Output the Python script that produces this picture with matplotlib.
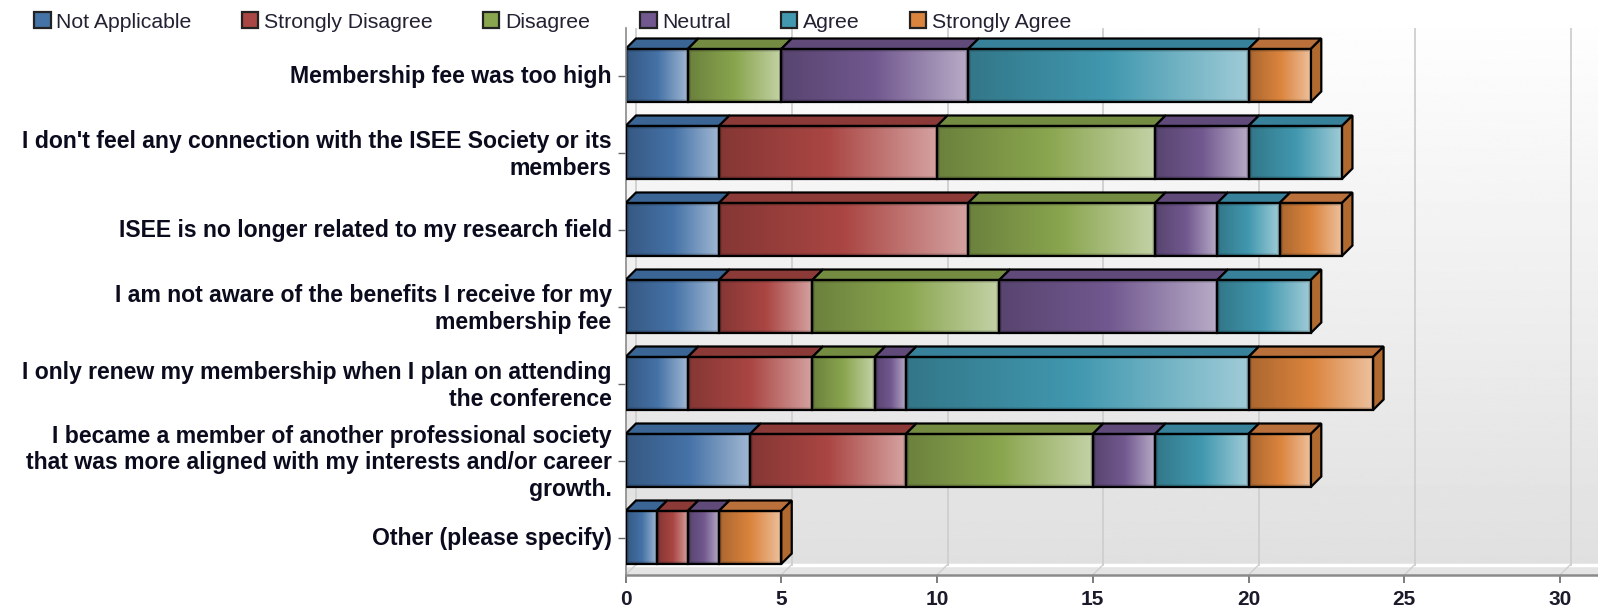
import numpy as np
import matplotlib
matplotlib.use("Agg")
import matplotlib.pyplot as plt
from matplotlib.patches import Polygon, Patch, Rectangle
from matplotlib.colors import to_rgb
from matplotlib.transforms import ScaledTranslation

plt.rcParams['font.family'] = ['Liberation Sans', 'DejaVu Sans']

# data
questions = [
    "Membership fee was too high",
    "I don't feel any connection with the ISEE Society or its\nmembers",
    "ISEE is no longer related to my research field",
    "I am not aware of the benefits I receive for my\nmembership fee",
    "I only renew my membership when I plan on attending\nthe conference",
    "I became a member of another professional society\nthat was more aligned with my interests and/or career\ngrowth.",
    "Other (please specify)",
]
not_applicable = [2, 3, 3, 3, 2, 4, 1]
strongly_disagree = [0, 7, 8, 3, 4, 5, 1]
disagree = [3, 7, 6, 6, 2, 6, 0]
neutral = [6, 3, 2, 7, 1, 2, 1]
agree = [9, 3, 2, 3, 11, 3, 0]
strongly_agree = [2, 0, 2, 0, 4, 2, 2]
series_names = ["Not Applicable", "Strongly Disagree", "Disagree", "Neutral", "Agree", "Strongly Agree"]
x_ticks = [0, 5, 10, 15, 20, 25, 30]

series = [not_applicable, strongly_disagree, disagree, neutral, agree, strongly_agree]
colors = ["#4572A7", "#AA4643", "#89A54E", "#71588F", "#4198AF", "#DB843D"]
top_colors = ["#3A6594", "#8C3A38", "#748C42", "#5F4A7A", "#37819A", "#B9703A"]
side_color = "#B06A30"

W, H = 1598, 611
# pixel layout
left, right, bottom, top = 625.5, W, 575, 28
px_x = 31.15   # pixels per unit
px_y = 77.0    # pixels per row
depth_px = 10.5
bar_px = 53

fig = plt.figure(figsize=(W / 100, H / 100), dpi=100)
ax = fig.add_axes([left / W, 1 - bottom / H, (right - left) / W, (bottom - top) / H])
ax.set_xlim(0, (right - left) / px_x)
ax.set_ylim(6 + (bottom - 537.5) / px_y, -(75.5 - top) / px_y)

dx = depth_px / px_x
dy = depth_px / px_y
h = bar_px / px_y
y_floor = ax.get_ylim()[0] - dy

# back wall
wall = np.linspace(0.995, 0.875, 256).reshape(-1, 1)
ax.imshow(wall, cmap='gray', vmin=0, vmax=1, aspect='auto', transform=ax.transAxes,
          extent=[0, 1, 0, 1], zorder=0)
ax.axhspan(y_floor + 0.005, ax.get_ylim()[0], color="#E4E4E4", lw=0, zorder=0.5)
ax.axhline(y_floor + 0.01, color="white", lw=2.5, zorder=0.6)

# grid lines with the 3d slant on the floor
for t in x_ticks:
    ax.plot([t + dx, t + dx], [ax.get_ylim()[1], y_floor], color="#CFCFCF", lw=1.3, zorder=1, clip_on=True)
    ax.plot([t + dx, t], [y_floor, ax.get_ylim()[0]], color="#CFCFCF", lw=1.0, zorder=1)


def bar_image(color, w_px, h_px):
    c = np.array(to_rgb(color))
    dark = c * 0.78
    light = c + (1 - c) * 0.5
    n = max(int(w_px), 2)
    t = np.linspace(0, 1, n)
    rows = np.zeros((int(h_px), n, 3))
    for k in range(3):
        rows[:, :, k] = np.interp(t, [0, 0.5, 1], [dark[k], c[k], light[k]])
    # soft bevel along the edges
    yy = np.arange(int(h_px))
    xx = np.arange(n)
    ey = np.minimum(yy, yy[::-1])
    ex = np.minimum(xx, xx[::-1])
    shade = np.minimum.outer(ey, ex)
    rows *= (0.72 + 0.28 * np.clip(shade / 3.0, 0, 1))[:, :, None]
    return rows


edge = dict(edgecolor="black", linewidth=1.6, joinstyle='miter')
for row in range(len(questions)):
    y_top = row - h / 2
    y_bot = row + h / 2
    z = 2 + row
    start = 0
    for vals, col, tcol in zip(series, colors, top_colors):
        v = vals[row]
        if v == 0:
            continue
        # top face
        ax.add_patch(Polygon([(start, y_top), (start + v, y_top), (start + v + dx, y_top - dy), (start + dx, y_top - dy)],
                             facecolor=tcol, zorder=z, **edge))
        # front face
        ax.imshow(bar_image(col, v * px_x, bar_px), aspect='auto',
                  extent=[start, start + v, y_bot, y_top], zorder=z + 0.2)
        ax.add_patch(Rectangle((start, y_top), v, h, facecolor='none', zorder=z + 0.3, **edge))
        start += v
    # side face is always drawn in the last series colour
    ax.add_patch(Polygon([(start, y_top), (start + dx, y_top - dy), (start + dx, y_bot - dy), (start, y_bot)],
                         facecolor=side_color, zorder=z + 0.1, **edge))

ax.set_xlim(0, (right - left) / px_x)
ax.set_ylim(6 + (bottom - 537.5) / px_y, -(75.5 - top) / px_y)

ax.set_xticks(x_ticks)
ax.set_yticks(range(len(questions)))
ax.set_yticklabels(questions, fontsize=16.6, fontweight='bold', linespacing=1.22, color="#0b0b1e", ha='right')
ax.tick_params(axis='x', length=6, width=1.2, color="#666666", labelsize=15, pad=5, labelcolor="#1a1a2a")
ax.tick_params(axis='y', length=6, width=1.0, color="#666666", pad=4)
for lab in ax.get_xticklabels():
    lab.set_fontweight('bold')
# labels sit a touch above the tick
shift_up = ScaledTranslation(0, 2 / 100, fig.dpi_scale_trans)
for lab in ax.get_yticklabels():
    lab.set_transform(lab.get_transform() + shift_up)
for s in ['top', 'right']:
    ax.spines[s].set_visible(False)
ax.spines['left'].set_color("#8A8A8A")
ax.spines['left'].set_linewidth(1.2)
ax.spines['bottom'].set_color("#8A8A8A")
ax.spines['bottom'].set_linewidth(1.8)

# legend along the top of the figure
handles = [Patch(facecolor=c, edgecolor="#222222", linewidth=1.6) for c in colors]
fig.legend(handles, series_names, loc='upper left', bbox_to_anchor=(28 / W, 1 - 6 / H), ncol=6,
           frameon=False, fontsize=15.3, handlelength=0.77, handleheight=0.77, handletextpad=0.27,
           columnspacing=2.36, borderaxespad=0, borderpad=0.3, labelcolor="#222233")

fig.savefig("out.png", dpi=100)
